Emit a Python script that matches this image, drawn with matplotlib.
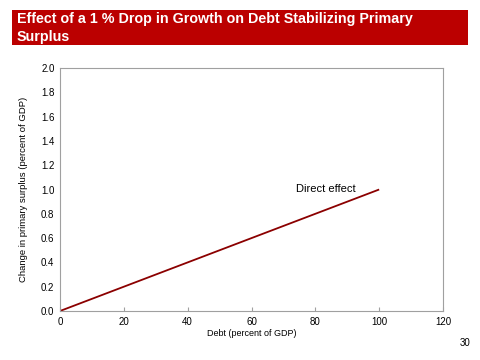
import matplotlib
matplotlib.use("Agg")
import matplotlib.pyplot as plt
from matplotlib.patches import Rectangle

plt.rcParams['font.family'] = ['Liberation Sans', 'DejaVu Sans']

debt = [0, 100]
direct_effect = [0.0, 1.0]
x_ticks = [0, 20, 40, 60, 80, 100, 120]
y_ticks = [0.0, 0.2, 0.4, 0.6, 0.8, 1.0, 1.2, 1.4, 1.6, 1.8, 2.0]

fig = plt.figure(figsize=(4.8, 3.6), dpi=100)
fig.patch.set_facecolor('white')

# Title banner
fig.patches.append(Rectangle((12/480, 1-45/360), (468-12)/480, 35/360,
                             transform=fig.transFigure, facecolor='#BB0000',
                             edgecolor='none', zorder=0))
fig.text(17/480, 1-19/360, "Effect of a 1 % Drop in Growth on Debt Stabilizing Primary",
         color='white', fontsize=10.3, fontweight='bold', va='center', ha='left')
fig.text(17/480, 1-37/360, "Surplus",
         color='white', fontsize=10.3, fontweight='bold', va='center', ha='left')

ax = fig.add_axes([60/480, 1-311/360, (443-60)/480, (311-68)/360])
ax.plot(debt, direct_effect, color='#8B0000', linewidth=1.3, solid_capstyle='butt')
ax.set_xlim(0, 120)
ax.set_ylim(0, 2.0)
ax.set_xticks(x_ticks)
ax.set_yticks(y_ticks)
ax.set_xticklabels([str(v) for v in x_ticks], fontsize=7)
ax.set_yticklabels([f"{v:.1f}" for v in y_ticks], fontsize=7)
ax.tick_params(axis='x', direction='in', length=3, color='#A0A0A0', pad=4)
ax.tick_params(axis='y', length=0, pad=4)
for s in ax.spines.values():
    s.set_color('#A0A0A0')
    s.set_linewidth(0.8)
ax.set_xlabel("Debt (percent of GDP)", fontsize=6.5, labelpad=2)
ax.set_ylabel("Change in primary surplus (percent of GDP)", fontsize=6.8, labelpad=9)
ax.text(74, 1.0, "Direct effect", fontsize=8, va='center', ha='left')

fig.text(465/480, 1-343/360, "30", fontsize=7, ha='center', va='center')

fig.savefig("out.png", dpi=100)
